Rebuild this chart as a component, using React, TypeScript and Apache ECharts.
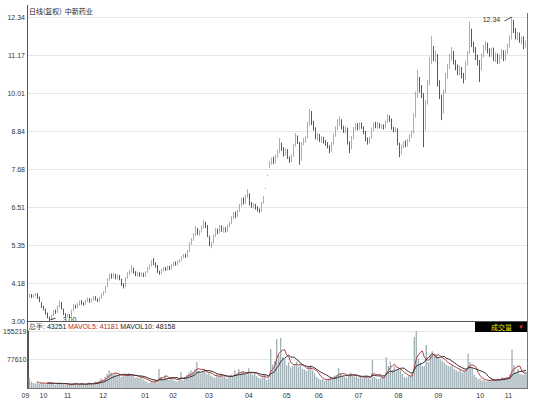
import React, { useEffect, useRef } from 'react';
import * as echarts from 'echarts';

// [open, close, low, high]
const ohlc: number[][] = [
  [3.82,3.78,3.74,3.86],[3.78,3.80,3.72,3.84],[3.80,3.74,3.70,3.83],[3.74,3.79,3.71,3.82],[3.79,3.83,3.76,3.86],
  [3.83,3.72,3.68,3.85],[3.72,3.62,3.58,3.75],[3.55,3.45,3.40,3.58],[3.44,3.38,3.33,3.47],[3.36,3.25,3.20,3.38],
  [3.24,3.12,3.08,3.26],[3.10,3.05,3.00,3.14],[3.06,3.18,3.04,3.20],[3.18,3.30,3.15,3.33],[3.30,3.26,3.22,3.35],
  [3.27,3.45,3.25,3.48],[3.46,3.58,3.42,3.63],[3.56,3.38,3.35,3.58],[3.36,3.22,3.18,3.38],[3.21,3.15,3.10,3.24],
  [3.15,3.18,3.11,3.22],[3.18,3.14,3.09,3.21],[3.15,3.32,3.13,3.35],[3.32,3.48,3.30,3.52],[3.47,3.42,3.38,3.50],
  [3.42,3.50,3.40,3.55],[3.50,3.60,3.47,3.63],[3.60,3.55,3.50,3.64],[3.55,3.52,3.47,3.58],[3.52,3.62,3.50,3.66],
  [3.62,3.68,3.58,3.72],[3.67,3.60,3.56,3.70],[3.60,3.65,3.57,3.70],[3.65,3.73,3.62,3.77],[3.73,3.66,3.63,3.76],
  [3.66,3.62,3.58,3.69],[3.62,3.70,3.60,3.74],[3.70,3.82,3.68,3.85],[3.82,3.88,3.78,3.92],[3.88,4.05,3.86,4.08],
  [4.06,4.28,4.04,4.32],[4.28,4.40,4.24,4.45],[4.40,4.35,4.30,4.46],[4.35,4.42,4.31,4.47],[4.42,4.32,4.28,4.45],
  [4.32,4.38,4.28,4.42],[4.38,4.30,4.25,4.41],[4.28,4.12,4.08,4.30],[4.12,4.05,4.00,4.16],[4.06,4.32,4.04,4.35],
  [4.32,4.45,4.30,4.50],[4.45,4.52,4.40,4.56],[4.52,4.62,4.48,4.72],[4.62,4.50,4.46,4.64],[4.50,4.42,4.38,4.53],
  [4.42,4.48,4.36,4.52],[4.48,4.40,4.36,4.50],[4.40,4.46,4.37,4.49],[4.46,4.38,4.35,4.48],[4.38,4.50,4.36,4.53],
  [4.50,4.62,4.48,4.66],[4.62,4.70,4.58,4.74],[4.70,4.82,4.67,4.86],[4.82,4.78,4.72,4.93],[4.78,4.70,4.65,4.80],
  [4.70,4.52,4.48,4.72],[4.52,4.46,4.42,4.55],[4.46,4.56,4.44,4.60],[4.56,4.62,4.52,4.66],[4.62,4.58,4.54,4.66],
  [4.58,4.66,4.55,4.70],[4.66,4.60,4.57,4.70],[4.60,4.72,4.58,4.75],[4.72,4.78,4.68,4.82],[4.78,4.74,4.70,4.83],
  [4.74,4.82,4.71,4.86],[4.82,4.86,4.78,4.90],[4.86,4.95,4.83,4.99],[4.95,5.02,4.92,5.06],[5.02,4.98,4.94,5.07],
  [4.98,5.15,4.96,5.18],[5.15,5.38,5.12,5.42],[5.38,5.50,5.34,5.55],[5.50,5.65,5.46,5.70],[5.65,5.82,5.60,5.92],
  [5.82,5.70,5.64,5.86],[5.70,5.75,5.62,5.80],[5.75,5.88,5.72,5.92],[5.88,6.02,5.84,6.10],[6.02,5.92,5.86,6.05],
  [5.92,5.62,5.58,5.95],[5.60,5.35,5.30,5.62],[5.34,5.40,5.24,5.45],[5.40,5.62,5.38,5.66],[5.62,5.80,5.58,5.85],
  [5.80,5.72,5.66,5.84],[5.72,5.90,5.70,5.95],[5.90,5.78,5.74,5.94],[5.78,5.85,5.72,5.90],[5.85,5.76,5.72,5.88],
  [5.76,5.92,5.74,5.96],[5.92,6.00,5.88,6.04],[6.00,6.18,5.98,6.22],[6.18,6.28,6.14,6.34],[6.28,6.22,6.16,6.36],
  [6.22,6.38,6.20,6.42],[6.38,6.56,6.35,6.60],[6.56,6.72,6.52,6.78],[6.72,6.64,6.58,6.80],[6.64,6.82,6.60,6.88],
  [6.82,6.90,6.78,7.05],[6.88,6.60,6.55,6.92],[6.60,6.52,6.48,6.66],[6.52,6.58,6.46,6.62],[6.58,6.48,6.42,6.60],
  [6.48,6.42,6.36,6.52],[6.42,6.36,6.32,6.46],[6.38,6.62,6.36,6.66],[6.62,6.78,6.60,6.84],[7.06,7.08,7.05,7.09],
  [7.46,7.48,7.45,7.49],[7.78,7.85,7.70,7.92],[7.85,7.95,7.80,8.02],[7.95,7.88,7.82,8.05],[7.88,8.06,7.85,8.12],
  [8.06,8.18,8.00,8.25],[8.18,8.42,8.15,8.62],[8.42,8.30,8.22,8.48],[8.30,8.12,8.05,8.34],[8.12,8.25,8.08,8.30],
  [8.25,8.02,7.98,8.28],[8.02,7.92,7.86,8.06],[7.92,8.08,7.88,8.12],[8.08,8.40,8.05,8.45],[8.40,8.65,8.36,8.77],
  [8.65,8.50,8.44,8.70],[8.48,7.92,7.80,8.50],[7.94,8.45,7.92,8.50],[8.45,8.55,8.40,8.62],[8.55,8.62,8.48,8.68],
  [8.62,9.05,8.60,9.12],[9.05,9.42,9.00,9.51],[9.40,9.10,9.02,9.45],[9.10,8.90,8.85,9.15],[8.90,8.62,8.58,8.95],
  [8.62,8.70,8.55,8.78],[8.70,8.55,8.50,8.75],[8.55,8.62,8.48,8.68],[8.62,8.50,8.45,8.66],[8.50,8.45,8.38,8.56],
  [8.45,8.35,8.30,8.50],[8.35,8.22,8.16,8.40],[8.22,8.45,8.20,8.50],[8.45,8.70,8.42,8.76],[8.70,8.92,8.66,8.98],
  [8.92,9.05,8.86,9.20],[9.05,9.18,9.00,9.29],[9.15,8.95,8.88,9.20],[8.95,8.85,8.78,9.00],[8.85,8.92,8.76,8.98],
  [8.90,8.48,8.42,8.94],[8.48,8.30,8.16,8.52],[8.30,8.62,8.28,8.68],[8.62,8.90,8.58,8.96],[8.90,9.02,8.85,9.08],
  [9.02,8.92,8.86,9.08],[8.92,9.05,8.88,9.10],[9.05,8.95,8.90,9.10],[8.95,8.80,8.74,8.98],[8.80,8.58,8.52,8.84],
  [8.58,8.50,8.42,8.64],[8.50,8.62,8.45,8.66],[8.62,8.88,8.60,8.94],[8.88,9.05,8.84,9.10],[9.05,8.98,8.92,9.12],
  [8.98,9.06,8.92,9.12],[9.06,8.96,8.92,9.08],[8.96,9.00,8.90,9.05],[9.00,8.94,8.88,9.04],[8.94,9.12,8.92,9.16],
  [9.12,9.28,9.08,9.35],[9.28,9.20,9.12,9.32],[9.20,8.92,8.88,9.22],[8.92,8.85,8.80,8.96],[8.85,8.90,8.80,8.95],
  [8.90,8.45,8.40,8.92],[8.45,8.18,8.03,8.48],[8.18,8.36,8.12,8.42],[8.36,8.45,8.30,8.52],[8.45,8.40,8.34,8.55],
  [8.40,8.55,8.36,8.60],[8.55,8.68,8.50,8.74],[8.68,8.78,8.62,8.85],[8.80,9.30,8.76,9.38],[9.30,9.90,9.25,10.05],
  [9.90,10.45,9.85,10.71],[10.40,10.15,10.02,10.50],[10.15,9.95,9.85,10.25],[9.95,8.85,8.34,10.00],[8.90,9.70,8.85,9.80],
  [9.70,10.30,9.65,10.40],[10.30,10.95,10.25,11.10],[10.95,11.40,10.90,11.75],[11.35,11.05,10.98,11.45],[11.05,11.20,10.95,11.30],
  [11.15,10.30,10.20,11.20],[10.30,9.90,9.82,10.40],[9.90,9.40,9.17,9.95],[9.42,10.05,9.38,10.12],[10.05,10.50,10.00,10.62],
  [10.50,10.80,10.45,10.90],[10.80,11.10,10.75,11.20],[11.10,11.25,11.00,11.42],[11.25,10.95,10.88,11.30],[10.95,10.80,10.70,11.02],
  [10.80,10.62,10.55,10.88],[10.62,10.75,10.55,10.85],[10.75,10.55,10.45,10.80],[10.55,10.42,10.30,10.62],[10.45,10.90,10.40,10.98],
  [10.90,11.20,10.85,11.30],[11.25,11.95,11.20,12.20],[11.90,11.50,11.42,11.98],[11.50,11.35,11.25,11.58],[11.35,11.10,11.02,11.42],
  [11.10,10.95,10.85,11.18],[10.95,10.75,10.34,11.02],[10.75,11.15,10.70,11.22],[11.15,11.38,11.10,11.48],[11.38,11.52,11.30,11.60],
  [11.50,11.30,11.22,11.55],[11.30,11.20,11.12,11.38],[11.20,11.35,11.12,11.40],[11.35,11.05,10.98,11.40],[11.05,11.18,10.95,11.25],
  [11.18,10.98,10.90,11.22],[10.98,11.10,10.90,11.18],[11.10,11.28,11.05,11.35],[11.28,11.05,10.98,11.32],[11.05,11.25,11.00,11.32],
  [11.25,11.45,11.20,11.52],[11.45,11.70,11.40,11.78],[11.70,12.20,11.65,12.34],[12.18,11.95,11.85,12.25],[11.95,11.72,11.65,12.00],
  [11.72,11.80,11.62,11.88],[11.80,11.62,11.55,11.86],[11.62,11.70,11.50,11.75],[11.70,11.45,11.35,11.74],[11.45,11.55,11.40,11.62],
];

const volumes: number[] = [
  28000,18000,14000,12000,16000,11000,15000,13000,10000,12000,
  14000,16000,11000,9000,12000,15000,13000,10000,9000,8000,
  11000,9000,12000,14000,10000,9000,13000,11000,8000,12000,
  15000,10000,13000,18000,16000,20000,26000,22000,30000,38000,
  48000,42000,36000,40000,34000,38000,30000,36000,32000,34000,
  41000,37000,33000,28000,30000,27000,32000,24000,20000,16000,
  14000,18000,15000,22000,13000,52000,30000,24000,34000,28000,
  22000,30000,26000,20000,18000,24000,44000,22000,30000,36000,
  42000,48000,44000,52000,71000,46000,40000,44000,50000,38000,
  42000,34000,30000,28000,36000,32000,38000,30000,34000,26000,
  30000,36000,32000,48000,38000,52000,40000,44000,38000,36000,
  54000,42000,36000,40000,32000,28000,26000,34000,38000,22000,
  26000,106000,64000,72000,133000,90000,136000,84000,78000,62000,
  70000,56000,60000,66000,72000,58000,64000,52000,50000,46000,
  58000,62000,48000,40000,30000,26000,22000,24000,20000,22000,
  26000,30000,28000,34000,36000,54000,40000,32000,30000,28000,
  36000,42000,32000,30000,34000,28000,32000,26000,30000,34000,
  28000,24000,76000,30000,26000,24000,28000,30000,34000,84000,
  60000,72000,50000,58000,46000,52000,48000,38000,30000,28000,
  32000,34000,40000,139000,155219,80000,70000,60000,60000,117000,
  70000,90000,100000,86000,92000,84000,78000,74000,70000,64000,
  60000,58000,62000,52000,48000,44000,50000,42000,46000,52000,
  93000,70000,54000,36000,30000,24000,26000,20000,22000,18000,
  20000,22000,24000,20000,22000,26000,24000,30000,26000,28000,
  30000,38000,105000,62000,40675,52000,38000,36000,36654,43251,
];

const monthTicks: [number, string][] = [
  [0, '09'], [9, '10'], [21, '11'], [39, '12'], [60, '01'], [74, '02'], [92, '03'], [112, '04'],
  [131, '05'], [147, '06'], [167, '07'], [187, '08'], [207, '09'], [228, '10'], [242, '11'],
];
const priceTickLabels = ['3.00', '4.18', '5.35', '6.51', '7.68', '8.84', '10.01', '11.17', '12.34'];
const priceMin = 3.0;
const priceMax = 12.34;
const volMax = 155219;
const titleText = '日线(复权)  中新药业';

function movingAverage(values: number[], n: number): (number | null)[] {
  const out: (number | null)[] = [];
  for (let i = 0; i < values.length; i++) {
    if (i < n - 1) { out.push(null); continue; }
    let s = 0;
    for (let k = i - n + 1; k <= i; k++) s += values[k];
    out.push(s / n);
  }
  return out;
}

export default function App() {
  const ref = useRef<HTMLDivElement>(null);
  useEffect(() => {
    if (!ref.current) return;
    const chart = echarts.init(ref.current, undefined, { renderer: 'svg' });
    const cats = ohlc.map((_, i) => String(i));
    const monthMap = new Map<number, string>(monthTicks);
    const ma5 = movingAverage(volumes, 5);
    const ma10 = movingAverage(volumes, 10);
    const lastVol = volumes[volumes.length - 1];
    const lastMa5 = Math.round(ma5[ma5.length - 1] as number);
    const lastMa10 = Math.round(ma10[ma10.length - 1] as number);
    let maxIdx = 0, minIdx = 0;
    ohlc.forEach((d, i) => {
      if (d[3] > ohlc[maxIdx][3]) maxIdx = i;
      if (d[2] < ohlc[minIdx][2]) minIdx = i;
    });
    const pStep = (priceMax - priceMin) / 8;
    const font = 'Liberation Sans, Noto Sans CJK SC, sans-serif';

    chart.setOption({
      animation: false,
      backgroundColor: '#ffffff',
      textStyle: { fontFamily: font },
      grid: [
        { left: 27, right: 11, top: 17, height: 304 },
        { left: 27, right: 11, top: 331, height: 57 },
      ],
      xAxis: [
        {
          gridIndex: 0, type: 'category', data: cats, boundaryGap: true,
          axisLine: { show: true, lineStyle: { color: '#555', width: 1 } },
          axisTick: { show: false }, axisLabel: { show: false }, splitLine: { show: false },
        },
        {
          gridIndex: 1, type: 'category', data: cats, boundaryGap: true,
          axisLine: { show: true, lineStyle: { color: '#777', width: 1 } },
          axisTick: { show: false }, splitLine: { show: false },
          axisLabel: {
            show: true, fontSize: 7, color: '#333', margin: 4, align: 'right',
            interval: (idx: number) => monthMap.has(idx),
            formatter: (_v: string, idx: number) => monthMap.get(idx) || '',
          },
        },
      ],
      yAxis: [
        {
          gridIndex: 0, type: 'value', min: priceMin, max: priceMax, interval: pStep,
          axisLine: { show: true, lineStyle: { color: '#555' } },
          axisTick: { show: false },
          splitLine: { show: true, lineStyle: { color: '#e6e6e6', width: 1 } },
          axisLabel: {
            fontSize: 7, color: '#333', margin: 2,
            formatter: (v: number) => priceTickLabels[Math.round((v - priceMin) / pStep)] || '',
          },
        },
        {
          gridIndex: 1, type: 'value', min: 0, max: volMax, interval: volMax / 2,
          axisLine: { show: true, lineStyle: { color: '#555' } },
          axisTick: { show: false },
          splitLine: { show: true, lineStyle: { color: '#e6e6e6', width: 1 } },
          axisLabel: {
            fontSize: 7, color: '#333', margin: 2,
            formatter: (v: number) => (v === 0 ? '' : String(Math.round(v))),
          },
        },
      ],
      series: [
        {
          type: 'candlestick', xAxisIndex: 0, yAxisIndex: 0, data: ohlc,
          barWidth: '65%',
          itemStyle: {
            color: '#cad4d8', color0: '#111111', borderColor: '#7f8c91', borderColor0: '#111111', borderWidth: 0.7,
          },
          markPoint: {
            silent: true,
            data: [
              {
                coord: [maxIdx, ohlc[maxIdx][3]], value: ohlc[maxIdx][3].toFixed(2),
                symbol: 'path://M0,8 L10,0', symbolSize: [7, 4], symbolOffset: [-4, 2], symbolKeepAspect: false,
                itemStyle: { color: 'none', borderColor: '#333', borderWidth: 0.8 },
                label: { show: true, position: 'left', distance: 1, fontSize: 7, color: '#333', formatter: '{c}' },
              },
              {
                coord: [minIdx, ohlc[minIdx][2]], value: ohlc[minIdx][2].toFixed(2),
                symbol: 'path://M0,4 L10,0', symbolSize: [5, 2], symbolOffset: [3, -2], symbolKeepAspect: false,
                itemStyle: { color: 'none', borderColor: '#333', borderWidth: 0.8 },
                label: { show: true, position: 'right', distance: 1, fontSize: 7, color: '#333', formatter: '{c}' },
              },
            ],
          },
        },
        {
          type: 'bar', xAxisIndex: 1, yAxisIndex: 1, data: volumes, barWidth: '70%',
          itemStyle: { color: '#a3b3ba' },
        },
        {
          type: 'line', xAxisIndex: 1, yAxisIndex: 1, data: ma5, symbol: 'none', showSymbol: false,
          lineStyle: { color: '#b04040', width: 1 },
        },
        {
          type: 'line', xAxisIndex: 1, yAxisIndex: 1, data: ma10, symbol: 'none', showSymbol: false,
          lineStyle: { color: '#3a2e2e', width: 1 },
        },
      ],
      graphic: [
        { type: 'line', shape: { x1: 27.5, y1: 5, x2: 27.5, y2: 389 }, style: { stroke: '#555', lineWidth: 1 }, z: 10 },
        { type: 'line', shape: { x1: 527.5, y1: 13, x2: 527.5, y2: 389 }, style: { stroke: '#777', lineWidth: 1 }, z: 10 },
        { type: 'line', shape: { x1: 27, y1: 321.5, x2: 528, y2: 321.5 }, style: { stroke: '#555', lineWidth: 1 }, z: 10 },
        {
          type: 'text', left: 29, top: 7, z: 10,
          style: { text: titleText, fontSize: 7, fill: '#222', fontFamily: 'Noto Sans CJK SC, sans-serif' },
        },
        {
          type: 'text', left: 29, top: 323, z: 10,
          style: {
            text: `{a|总手: ${lastVol}} {b|MAVOL5: ${lastMa5}} {a|MAVOL10: ${lastMa10}}`,
            fontSize: 7, fontFamily: 'Noto Sans CJK SC, Liberation Sans, sans-serif',
            rich: { a: { fill: '#222', fontSize: 7 }, b: { fill: '#b03030', fontSize: 7 } },
          },
        },
        { type: 'rect', shape: { x: 475, y: 322, width: 52, height: 10 }, style: { fill: '#000' }, z: 10 },
        {
          type: 'text', left: 491, top: 323, z: 11,
          style: { text: '成交量', fontSize: 7, fill: '#e8e000', fontFamily: 'Noto Sans CJK SC, sans-serif' },
        },
        {
          type: 'text', left: 518, top: 323.5, z: 11,
          style: { text: '▼', fontSize: 6, fill: '#e03030' },
        },
      ],
    });
    return () => chart.dispose();
  }, []);
  return <div ref={ref} style={{ position: 'fixed', left: 0, top: 0, width: 538, height: 400 }} />;
}
